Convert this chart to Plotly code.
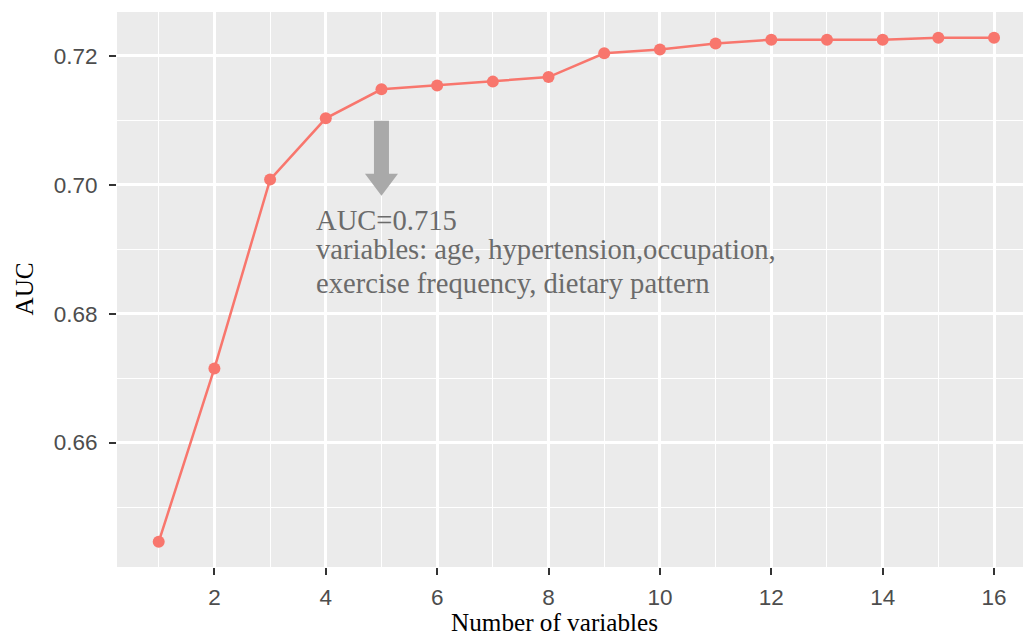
import plotly.graph_objects as go

n_vars = list(range(1, 17))
auc = [0.6446, 0.6715, 0.7008, 0.7103, 0.7148, 0.7154, 0.7160, 0.7167,
       0.7204, 0.7210, 0.7219, 0.7225, 0.7225, 0.7225, 0.7228, 0.7228]
x_ticks = [2, 4, 6, 8, 10, 12, 14, 16]
y_ticks = [0.66, 0.68, 0.70, 0.72]
best_n = 5
best_auc_text = "AUC=0.715"
note_lines = ["variables: age, hypertension,occupation,",
              "exercise frequency, dietary pattern"]

fig = go.Figure()
fig.add_trace(go.Scatter(
    x=n_vars, y=auc, mode="lines+markers",
    line=dict(color="#F8766D", width=2.5),
    marker=dict(color="#F8766D", size=12),
    showlegend=False, hoverinfo="x+y",
))

tick_font = dict(family="Liberation Sans, Arial, sans-serif", size=22.5, color="#4D4D4D")
title_font = dict(family="Liberation Serif, Times New Roman, serif", size=25.2, color="#000000")
note_font = dict(family="Liberation Serif, Times New Roman, serif", size=28.6, color="#6B6B6B")

fig.update_layout(
    width=1023, height=637,
    margin=dict(l=117, r=0, t=12, b=70),
    paper_bgcolor="white", plot_bgcolor="#EBEBEB",
    xaxis=dict(
        range=[0.251, 16.52], tickmode="array", tickvals=x_ticks,
        ticktext=[str(v) for v in x_ticks],
        showgrid=True, gridcolor="white", gridwidth=2.5,
        minor=dict(dtick=1, tick0=0, showgrid=True, gridcolor="white", gridwidth=1.3, ticks=""),
        ticks="outside", ticklen=7, tickwidth=2, tickcolor="#333333",
        tickfont=tick_font, zeroline=False, showline=False,
        ticklabelstandoff=3,
    ),
    yaxis=dict(
        range=[0.6407, 0.7268], tickmode="array", tickvals=y_ticks,
        ticktext=["%.2f" % v for v in y_ticks],
        showgrid=True, gridcolor="white", gridwidth=2.5,
        minor=dict(dtick=0.01, tick0=0, showgrid=True, gridcolor="white", gridwidth=1.3, ticks=""),
        ticks="outside", ticklen=7, tickwidth=2, tickcolor="#333333",
        tickfont=tick_font, zeroline=False, showline=False,
        ticklabelstandoff=7,
    ),
)

# axis titles
fig.add_annotation(text="Number of variables", xref="paper", yref="paper",
                   x=0.4834, y=-0.0994, xanchor="center", yanchor="middle",
                   showarrow=False, font=title_font)
fig.add_annotation(text="AUC", xref="paper", yref="paper",
                   x=-0.1026, y=0.5, xanchor="center", yanchor="middle",
                   textangle=-90, showarrow=False, font=title_font)

# note text
for txt, py in zip([best_auc_text] + note_lines, [0.6250, 0.5721, 0.5114]):
    fig.add_annotation(text=txt, xref="paper", yref="paper", x=0.2185, y=py,
                       xanchor="left", yanchor="middle", showarrow=False,
                       borderpad=0, font=note_font)

# arrow pointing at selected model
fig.add_shape(type="path", xref="x", yref="y",
              xsizemode="pixel", ysizemode="pixel",
              xanchor=best_n, yanchor=0.6983,
              path="M0,0 L-16.5,22 L-7.5,22 L-7.5,75 L7.5,75 L7.5,22 L16.5,22 Z",
              fillcolor="#A9A9A9", line=dict(width=0), layer="above")

fig.write_html("out.html")
